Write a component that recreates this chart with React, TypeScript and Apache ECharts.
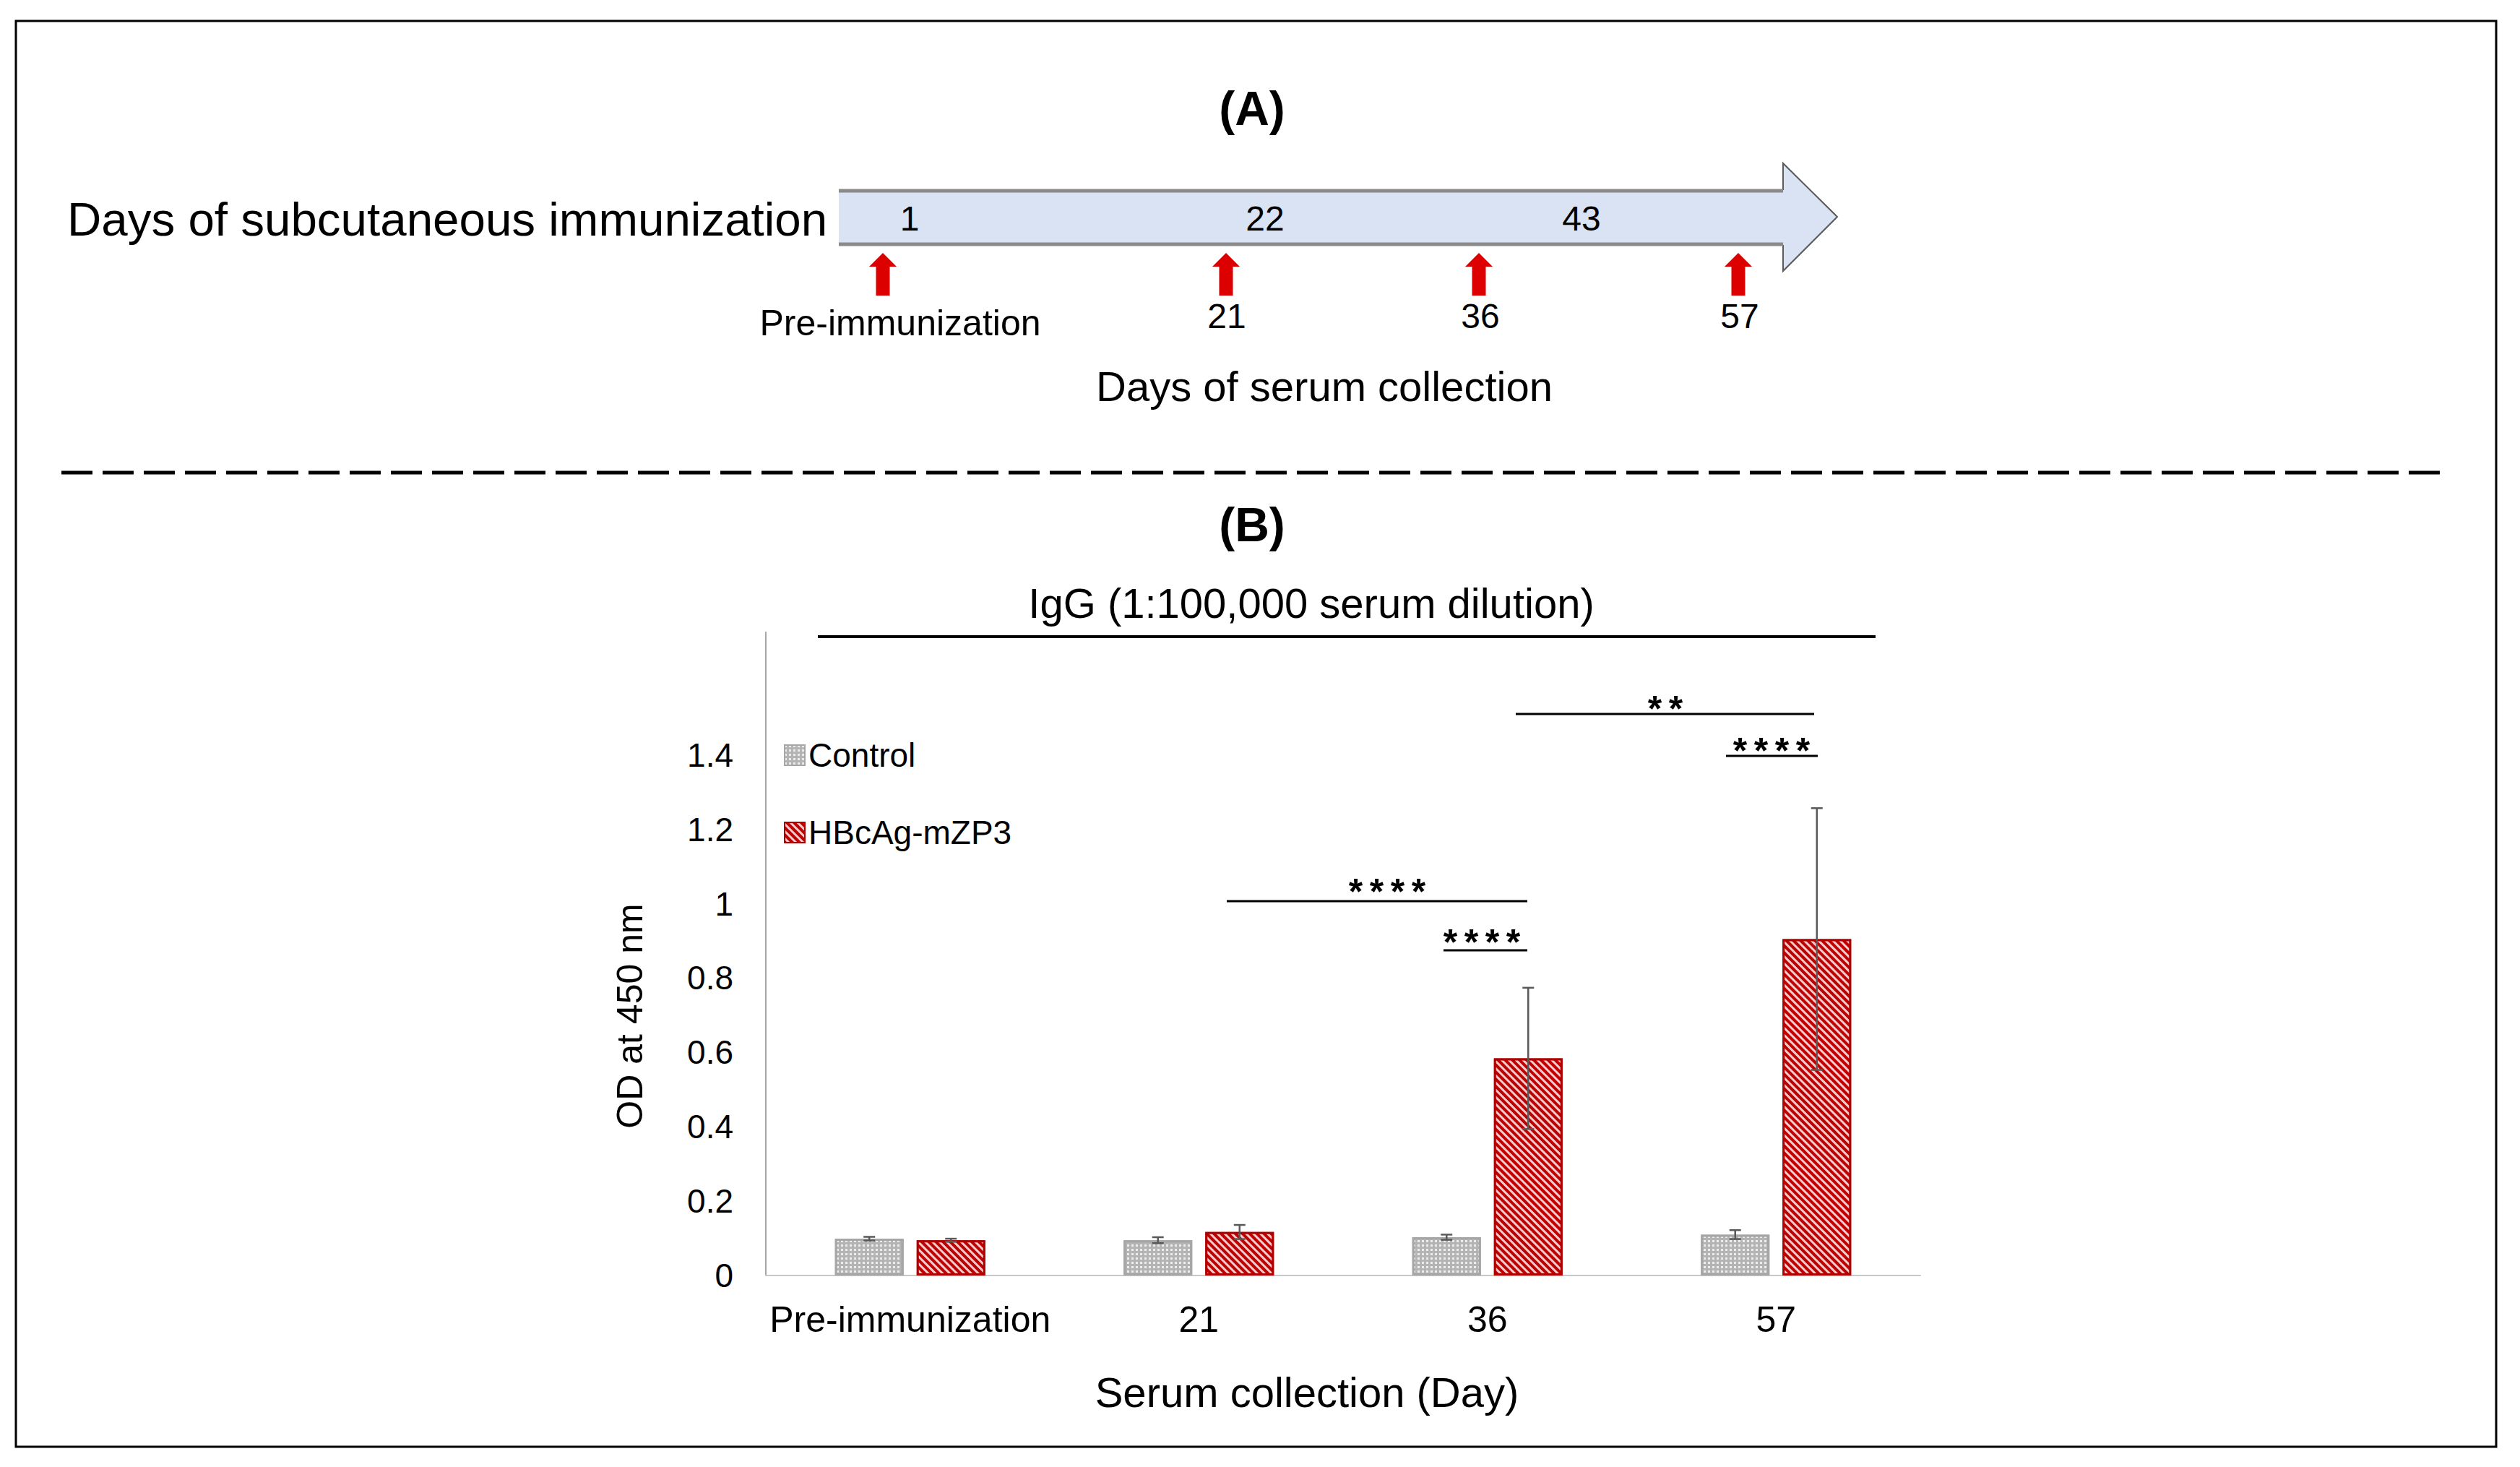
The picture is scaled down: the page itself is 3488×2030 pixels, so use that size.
import React, { useEffect, useRef } from 'react';
import * as echarts from 'echarts';

// ---------------- data ----------------
const categories = ['Pre-immunization', '21', '36', '57'];
const seriesNames = ['Control', 'HBcAg-mZP3'];
const controlValues = [0.099, 0.095, 0.103, 0.11];
const controlErrors = [0.005, 0.008, 0.007, 0.012];
const vaccineValues = [0.095, 0.117, 0.584, 0.905];
const vaccineErrors = [0.004, 0.019, 0.19, 0.352];
const yTickMax = 1.4;
const immunizationDays = ['1', '22', '43'];
const collectionLabels = ['Pre-immunization', '21', '36', '57'];

const FONT = '"Liberation Sans", Arial, Helvetica, sans-serif';
const BAR_WIDTH = 95;
const BAR_GAP = 0.19;

function asterisks(n: number, cx: number, cy: number) {
  const step = 29;
  const x0 = cx - ((n - 1) * step) / 2;
  const out: any[] = [];
  for (let i = 0; i < n; i++) {
    out.push({
      type: 'text',
      x: x0 + i * step,
      y: cy + 11,
      style: { text: '*', font: `bold 50px ${FONT}`, fill: '#000', align: 'center', verticalAlign: 'middle' },
    });
  }
  return out;
}

function hline(x1: number, x2: number, y: number, w = 3) {
  return { type: 'line', shape: { x1, y1: y, x2, y2: y }, style: { stroke: '#000', lineWidth: w } };
}

function redArrow(cx: number) {
  return {
    type: 'polygon',
    shape: {
      points: [
        [cx, 350], [cx + 19, 369], [cx + 9.5, 369], [cx + 9.5, 409],
        [cx - 9.5, 409], [cx - 9.5, 369], [cx - 19, 369],
      ],
    },
    style: { fill: '#dc0000' },
  };
}

export default function App() {
  const ref = useRef<HTMLDivElement>(null);
  useEffect(() => {
    document.body.style.margin = '0';
    const chart = echarts.init(ref.current!, null, { renderer: 'svg' });

    const errorData: number[][] = [];
    categories.forEach((_, i) => {
      errorData.push([i, controlValues[i], controlErrors[i], -1]);
      errorData.push([i, vaccineValues[i], vaccineErrors[i], 1]);
    });

    const dayXs = [1259, 1751, 2189];
    const collX = [1246, 1698, 2049, 2408];
    const arrowXs = [1222, 1697, 2047, 2406];

    const graphics: any[] = [
      { type: 'rect', shape: { x: 22, y: 29, width: 3433, height: 1973 }, style: { fill: 'none', stroke: '#000', lineWidth: 3 } },
      // Panel A
      { type: 'text', x: 1733, y: 150, style: { text: '(A)', font: `bold 66px ${FONT}`, fill: '#000', align: 'center', verticalAlign: 'middle' } },
      { type: 'text', x: 93, y: 303, style: { text: 'Days of subcutaneous immunization', font: `65.5px ${FONT}`, fill: '#000', align: 'left', verticalAlign: 'middle' } },
      {
        type: 'polygon',
        shape: { points: [[1161, 263], [2468, 263], [2468, 226], [2543, 300], [2468, 375], [2468, 339], [1161, 339]] },
        style: { fill: '#dae3f3', stroke: 'none' },
      },
      { type: 'polyline', shape: { points: [[2468, 263], [2468, 226], [2543, 300], [2468, 375], [2468, 339]] }, style: { stroke: '#5a5a5a', lineWidth: 2, fill: 'none' } },
      { type: 'line', shape: { x1: 1161, y1: 264, x2: 2468, y2: 264 }, style: { stroke: '#8a8a8a', lineWidth: 5 } },
      { type: 'line', shape: { x1: 1161, y1: 338, x2: 2468, y2: 338 }, style: { stroke: '#8a8a8a', lineWidth: 5 } },
      ...immunizationDays.map((d, i) => ({
        type: 'text', x: dayXs[i], y: 302,
        style: { text: d, font: `48px ${FONT}`, fill: '#000', align: 'center', verticalAlign: 'middle' },
      })),
      ...arrowXs.map((x) => redArrow(x)),
      ...collectionLabels.map((d, i) => ({
        type: 'text', x: collX[i], y: i === 0 ? 447 : 437,
        style: { text: d, font: `${i === 0 ? 50 : 48}px ${FONT}`, fill: '#000', align: 'center', verticalAlign: 'middle' },
      })),
      { type: 'text', x: 1833, y: 534, style: { text: 'Days of serum collection', font: `58px ${FONT}`, fill: '#000', align: 'center', verticalAlign: 'middle' } },
      // separator
      { type: 'line', shape: { x1: 85, y1: 654, x2: 3381, y2: 654 }, style: { stroke: '#000', lineWidth: 5, lineDash: [43, 14] } },
      // Panel B
      { type: 'text', x: 1733, y: 726, style: { text: '(B)', font: `bold 66px ${FONT}`, fill: '#000', align: 'center', verticalAlign: 'middle' } },
      { type: 'text', x: 1815, y: 834, style: { text: 'IgG (1:100,000 serum dilution)', font: `58px ${FONT}`, fill: '#000', align: 'center', verticalAlign: 'middle' } },
      hline(1132, 2596, 881, 4),
      { type: 'text', x: 872, y: 1406, rotation: Math.PI / 2, style: { text: 'OD at 450 nm', font: `50px ${FONT}`, fill: '#000', align: 'center', verticalAlign: 'middle' } },
      { type: 'text', x: 1809, y: 1926, style: { text: 'Serum collection (Day)', font: `58px ${FONT}`, fill: '#000', align: 'center', verticalAlign: 'middle' } },
      // significance annotations
      hline(1698, 2114, 1247),
      ...asterisks(4, 1920, 1223),
      hline(1998, 2114, 1315),
      ...asterisks(4, 2051, 1293),
      hline(2098, 2511, 988),
      ...asterisks(2, 2305, 970),
      hline(2389, 2516, 1046),
      ...asterisks(4, 2452, 1028),
    ];

    chart.setOption({
      animation: false,
      backgroundColor: '#ffffff',
      grid: { left: 1060, right: 3488 - 2658, top: 875, bottom: 2030 - 1765, containLabel: false },
      legend: {
        data: seriesNames,
        orient: 'vertical',
        left: 1085,
        top: 1022,
        padding: 0,
        itemWidth: 28,
        itemHeight: 28,
        itemGap: 61,
        icon: 'rect',
        textStyle: { fontFamily: FONT, fontSize: 46, color: '#000' },
      },
      xAxis: {
        type: 'category',
        data: categories,
        axisLine: { lineStyle: { color: '#c8c8c8', width: 2 } },
        axisTick: { show: false },
        axisLabel: { fontFamily: FONT, fontSize: 50, color: '#000', margin: 36, interval: 0 },
      },
      yAxis: {
        type: 'value',
        min: 0,
        max: 1.73,
        interval: 0.2,
        axisLine: { show: true, lineStyle: { color: '#a6a6a6', width: 2 } },
        axisTick: { show: false },
        splitLine: { show: false },
        axisLabel: {
          fontFamily: FONT,
          fontSize: 46,
          color: '#000',
          margin: 45,
          formatter: (v: number) => (v > yTickMax + 1e-6 ? '' : String(Math.round(v * 10) / 10)),
        },
      },
      series: [
        {
          name: seriesNames[0],
          type: 'bar',
          data: controlValues,
          barWidth: BAR_WIDTH,
          barGap: `${BAR_GAP * 100}%`,
          itemStyle: {
            color: '#b4b4b4',
            borderColor: '#a6a6a6',
            borderWidth: 3,
            decal: {
              symbol: 'rect',
              symbolSize: 1,
              color: 'rgba(255,255,255,0.75)',
              dashArrayX: [3, 3],
              dashArrayY: [3, 3],
              rotation: 0,
            },
          },
        },
        {
          name: seriesNames[1],
          type: 'bar',
          data: vaccineValues,
          barWidth: BAR_WIDTH,
          barGap: `${BAR_GAP * 100}%`,
          itemStyle: {
            color: '#c00000',
            borderColor: '#b00000',
            borderWidth: 3,
            decal: {
              symbol: 'rect',
              symbolSize: 1,
              color: 'rgba(255,255,255,0.8)',
              dashArrayX: [1, 0],
              dashArrayY: [3, 4],
              rotation: Math.PI / 4,
            },
          },
        },
        {
          type: 'custom',
          name: 'error',
          silent: true,
          z: 10,
          encode: { x: 0, y: 1 },
          data: errorData,
          renderItem: (params: any, api: any) => {
            const ci = api.value(0);
            const mean = api.value(1);
            const err = api.value(2);
            const side = api.value(3);
            const c = api.coord([ci, mean]);
            const x = c[0] + (side * (BAR_WIDTH * (1 + BAR_GAP))) / 2;
            const top = api.coord([ci, mean + err])[1];
            const bot = api.coord([ci, mean - err])[1];
            const cap = 8;
            const style = { stroke: '#595959', lineWidth: 2.5 };
            return {
              type: 'group',
              children: [
                { type: 'line', shape: { x1: x, y1: top, x2: x, y2: bot }, style },
                { type: 'line', shape: { x1: x - cap, y1: top, x2: x + cap, y2: top }, style },
                { type: 'line', shape: { x1: x - cap, y1: bot, x2: x + cap, y2: bot }, style },
              ],
            };
          },
        },
      ],
      graphic: graphics,
    });
    return () => chart.dispose();
  }, []);
  return <div ref={ref} style={{ position: 'absolute', left: 0, top: 0, width: 3488, height: 2030 }} />;
}
